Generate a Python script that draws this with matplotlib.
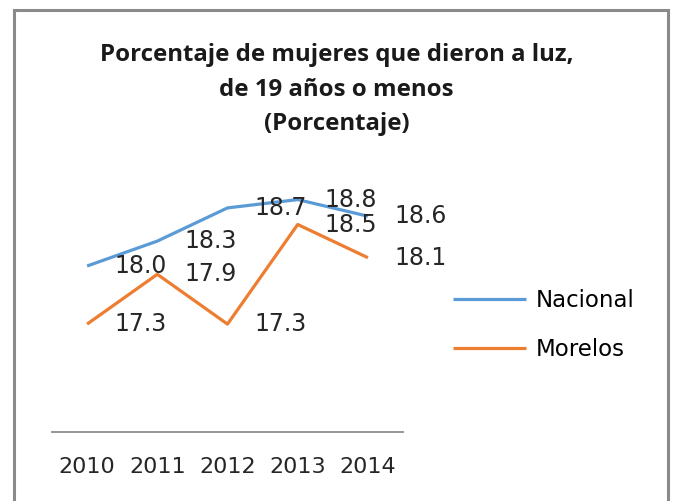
### Line chart: women who gave birth aged 19 or younger
import matplotlib
matplotlib.use('Agg')
import matplotlib.pyplot as plt
from matplotlib.patches import Rectangle

# Data
years = ['2010', '2011', '2012', '2013', '2014']
nacional = [18.0, 18.3, 18.7, 18.8, 18.6]
morelos = [17.3, 17.9, 17.3, 18.5, 18.1]
title_lines = ['Porcentaje de mujeres que dieron a luz,',
               'de 19 años o menos',
               '(Porcentaje)']

blue = '#5B9BD5'
orange = '#ED7D31'

fig = plt.figure(figsize=(6.73, 5.01), dpi=100)
ax = fig.add_axes([52/673, 69/501, 351/673, 249/501])

x = range(len(years))
ax.plot(x, nacional, color=blue, lw=2.3, label='Nacional', solid_capstyle='butt')
ax.plot(x, morelos, color=orange, lw=2.3, label='Morelos', solid_capstyle='butt')

# Data labels to the right of each point
for series in (nacional, morelos):
    for i, v in enumerate(series):
        ax.annotate(f'{v:.1f}', (i, v), xytext=(27, 0), textcoords='offset pixels',
                    ha='left', va='center', fontsize=17, color='#262626',
                    family='DejaVu Sans', annotation_clip=False)

ax.set_xlim(-0.5, 4.5)
ax.set_ylim(16, 19)
ax.set_xticks(list(x))
ax.set_xticklabels(years, fontsize=16, color='#262626')
ax.set_yticks([])
ax.tick_params(axis='x', length=0, pad=18)
for s in ['top', 'right', 'left']:
    ax.spines[s].set_visible(False)
ax.spines['bottom'].set_color('#8c8c8c')
ax.spines['bottom'].set_linewidth(1.3)

# Legend
fig.legend(loc='center left', bbox_to_anchor=(453/673, (501-325)/501), frameon=False,
           fontsize=16.5, handlelength=3.2, handletextpad=0.4, labelspacing=1.1,
           borderpad=0, borderaxespad=0)

# Title
for k, line in enumerate(title_lines):
    fig.text(0.5, 1 - (55 + 34.5*k)/501, line, ha='center', va='center',
             fontsize=17.3, fontweight='bold', family='Open Sans', color='#1a1a1a')

# Chart border
fig.patches.append(Rectangle((14/673, -0.1), (668-14)/673, 1.1 - 10/501,
                             transform=fig.transFigure, fill=False,
                             edgecolor='#8a8a8a', lw=2.2))

fig.savefig('out.png', dpi=100)
